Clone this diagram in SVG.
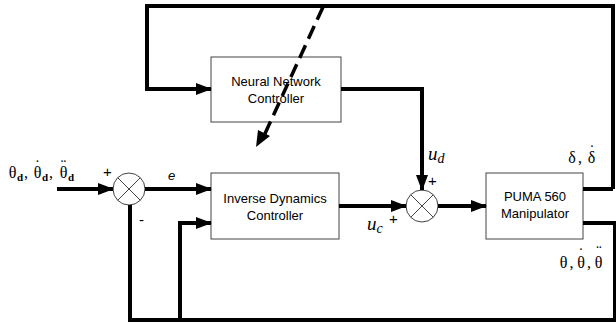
<svg xmlns="http://www.w3.org/2000/svg" width="616" height="324" viewBox="0 0 616 324">
<defs>
<marker id="ah" markerUnits="userSpaceOnUse" markerWidth="16" markerHeight="12" refX="15" refY="6" orient="auto">
<path d="M0,0 L16,6 L0,12 Z" fill="#000"/>
</marker>
<style>
.box{fill:#fff;stroke:#444;stroke-width:1}
.lbl{font-family:"Liberation Sans",Arial,sans-serif;font-size:13px;fill:#000;text-anchor:middle}
.w{fill:none;stroke:#000;stroke-width:4}
.sum{fill:#fff;stroke:#444;stroke-width:1}
.x{stroke:#444;stroke-width:1}
.m{font-family:"Liberation Serif","DejaVu Serif",serif;font-size:16px;fill:#000;text-anchor:middle}
.b{font-family:"Liberation Serif","DejaVu Serif",serif;font-size:11px;font-weight:bold;fill:#000}
.dt{font-family:"Liberation Serif","DejaVu Serif",serif;font-size:16px;fill:#000;text-anchor:middle}
.mi{font-family:"Liberation Serif","DejaVu Serif",serif;font-style:italic;font-size:19px;fill:#000}
.s{font-family:"Liberation Sans",Arial,sans-serif;font-size:15px;fill:#000}
</style>
</defs>
<rect width="616" height="324" fill="#fff"/>
<g id="nn">
<rect class="box" x="211" y="57" width="130" height="65"/>
<text class="lbl" x="276" y="86">Neural Network</text>
<text class="lbl" x="276" y="103">Controller</text>
</g>
<g id="idc">
<rect class="box" x="211" y="173" width="128" height="66"/>
<text class="lbl" x="275" y="203">Inverse Dynamics</text>
<text class="lbl" x="275" y="220">Controller</text>
</g>
<g id="puma">
<rect class="box" x="486" y="173" width="97" height="66"/>
<text class="lbl" x="535" y="201">PUMA 560</text>
<text class="lbl" x="535" y="218">Manipulator</text>
</g>
<g id="sum1">
<circle class="sum" cx="129" cy="189" r="16"/>
<line class="x" x1="117.7" y1="177.7" x2="140.3" y2="200.3"/>
<line class="x" x1="140.3" y1="177.7" x2="117.7" y2="200.3"/>
</g>
<g id="sum2">
<circle class="sum" cx="422" cy="206" r="16"/>
<line class="x" x1="410.7" y1="194.7" x2="433.3" y2="217.3"/>
<line class="x" x1="433.3" y1="194.7" x2="410.7" y2="217.3"/>
</g>
<g id="connectors">
<polyline class="w" points="613,189 613,6 147,6 147,89 211,89" marker-end="url(#ah)"/>
<polyline class="w" points="583,189 613,189"/>
<polyline class="w" points="583,223 615,223 615,320 130,320 130,205"/>
<polyline class="w" points="180,320 180,223 211,223" marker-end="url(#ah)"/>
<polyline class="w" points="57,189 113,189" marker-end="url(#ah)"/>
<polyline class="w" points="145,189 211,189" marker-end="url(#ah)"/>
<polyline class="w" points="341,89 422,89 422,190" marker-end="url(#ah)"/>
<polyline class="w" points="339,206 406,206" marker-end="url(#ah)"/>
<polyline class="w" points="438,206 486,206" marker-end="url(#ah)"/>
<line x1="323" y1="7" x2="263" y2="138" stroke="#000" stroke-width="3.5" stroke-dasharray="14,7"/>
<path d="M256,147 L258,130 L270,136 Z" fill="#000"/>
</g>
<g id="labels">
<text class="m" x="12.5" y="178">θ</text><text class="b" x="17" y="181">d</text><text class="m" x="26" y="178">,</text>
<text class="m" x="37.5" y="178">θ</text><text class="b" x="42" y="181">d</text><text class="m" x="51" y="178">,</text>
<text class="m" x="63.5" y="178">θ</text><text class="b" x="68" y="181">d</text>
<text class="dt" x="37.5" y="171">˙</text>
<text class="dt" x="63.5" y="171">¨</text>
<text class="s" x="103" y="177">+</text>
<text class="s" x="139" y="225">-</text>
<text font-family="Liberation Sans,Arial,sans-serif" font-style="italic" font-size="13" x="168" y="180">e</text>
<text class="mi" x="367" y="230">u<tspan font-size="14" dy="3">c</tspan></text>
<text class="s" x="389" y="224">+</text>
<text class="mi" x="428" y="160">u<tspan font-size="14" dy="3">d</tspan></text>
<text class="s" x="428" y="186">+</text>
<text class="m" font-size="18" x="572" y="163">δ</text><text class="m" font-size="18" x="580" y="163">,</text>
<text class="m" font-size="18" x="591.5" y="163">δ</text>
<text class="dt" font-size="18" x="592" y="156">˙</text>
<text class="m" font-size="19" x="563.5" y="268">θ</text><text class="m" font-size="19" x="571.5" y="268">,</text>
<text class="m" font-size="19" x="581" y="268">θ</text><text class="m" font-size="19" x="589" y="268">,</text>
<text class="m" font-size="19" x="598.5" y="268">θ</text>
<text class="dt" font-size="18" x="581" y="259">˙</text>
<text class="dt" font-size="18" x="599" y="257">¨</text>
</g>
</svg>
